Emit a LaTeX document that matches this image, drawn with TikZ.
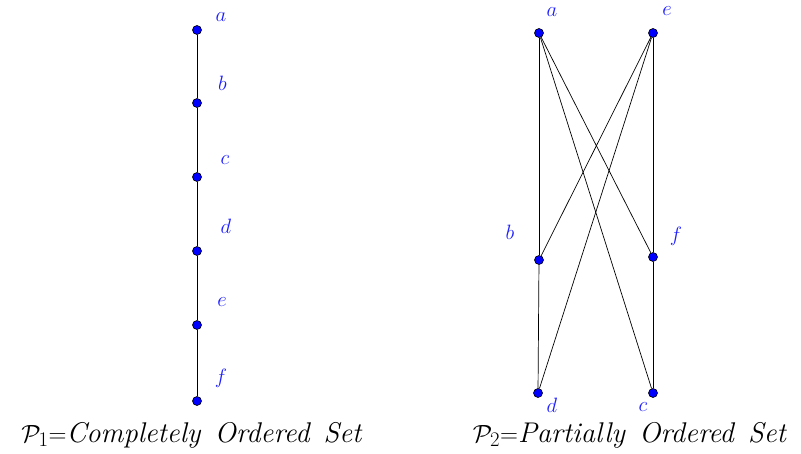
\documentclass[tikz,border=0pt]{standalone}
\usetikzlibrary{positioning}
\definecolor{posetBlue}{HTML}{0000FF}
\definecolor{posetLabel}{HTML}{1E1EFF}

\begin{document}
\begin{tikzpicture}[x=1pt,y=-1pt,
  vertex/.style={circle,draw=black,fill=posetBlue,inner sep=0pt,minimum size=9pt,line width=0.6pt},
  vlabel/.style={text=posetLabel,inner sep=0pt,font=\fontsize{21}{25}\selectfont},
  edge/.style={draw=black,line width=0.7pt},
  caption/.style={anchor=base,inner sep=0pt,font=\fontsize{28.5}{32}\selectfont}]
\useasboundingbox (0,0) rectangle (801,453);
% chain
\foreach \name/\y/\lx/\ly in {a/30/221/17.5,b/103/222.5/83,c/177/225/160,d/251/226/226,e/325/222/302,f/401/221/378}{
  \node[vertex] (c\name) at (197,\y) {};
  \node[vlabel] (cl\name) at (\lx,\ly) {$\name$};
}
\foreach \u/\v in {a/b,b/c,c/d,d/e,e/f}{
  \draw[edge] (c\u) -- (c\v);
}
% partial order
\node[vertex] (va) at (539,33) {};
\node[vertex] (ve) at (653,33) {};
\node[vertex] (vb) at (539,260) {};
\node[vertex] (vf) at (653,257) {};
\node[vertex] (vd) at (538,393) {};
\node[vertex] (vc) at (653,393) {};
\foreach \u/\v in {a/b,a/f,a/c,e/b,e/d,e/f,b/d,f/c}{
  \draw[edge] (v\u) -- (v\v);
}
\node[vlabel] (la) at (552,12) {$a$};
\node[vlabel] (le) at (667,11) {$e$};
\node[vlabel] (lb) at (510,232) {$b$};
\node[vlabel] (lf) at (676,236) {$f$};
\node[vlabel] (ld) at (552,405) {$d$};
\node[vlabel] (lc) at (643,407) {$c$};
% captions
\node[caption] (cap1) at (192,442) {$\mathcal{P}_1{=}$\textit{Completely\hspace{.5em}Ordered\hspace{.5em}Set}};
\node[caption] (cap2) at (630,442) {$\mathcal{P}_2{=}$\textit{Partially\hspace{.5em}Ordered\hspace{.5em}Set}};
\end{tikzpicture}
\end{document}
